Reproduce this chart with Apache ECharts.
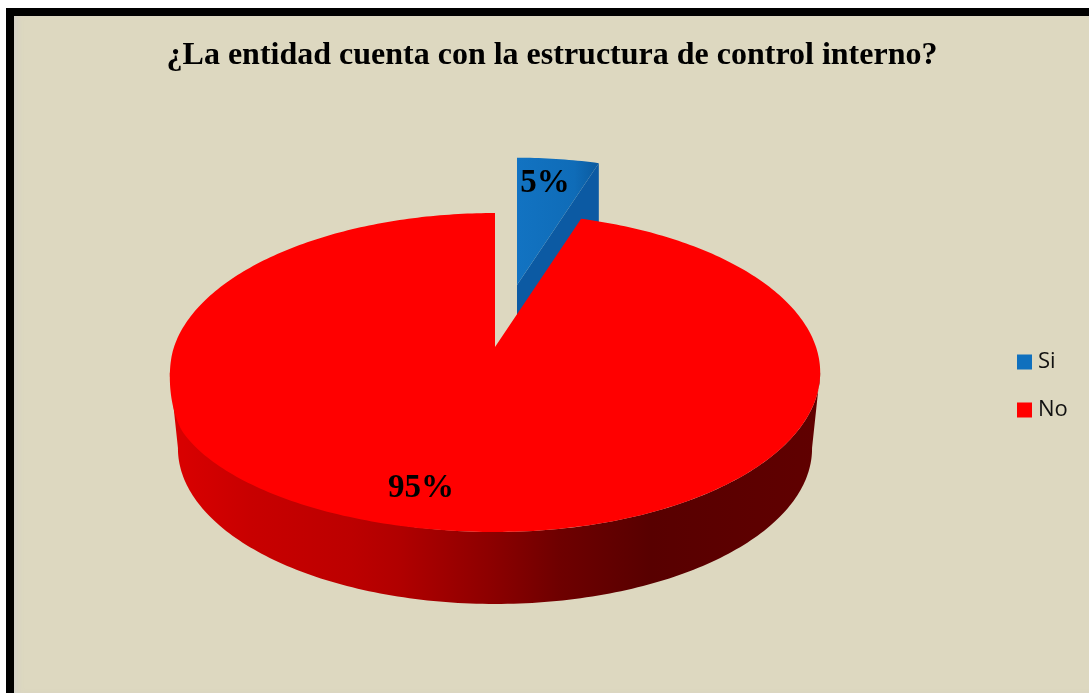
<!DOCTYPE html>
<html><head><meta charset="utf-8">
<script src="https://cdn.jsdelivr.net/npm/echarts@6/dist/echarts.min.js"></script>
<style>
html,body{margin:0;padding:0;width:100%;height:100%;background:#fff;overflow:hidden}
#frame{position:absolute;left:6px;top:8px;right:0;bottom:0;background:#000}
#inner{position:absolute;left:8px;top:8px;right:0;bottom:0;background:#DDD8C0;box-shadow:inset 6px 0 6px -3px rgba(205,205,205,.7)}
#main{position:absolute;left:0;top:0;width:1089px;height:693px}
</style></head><body>
<div id="frame"><div id="inner"></div></div>
<div id="main"></div>
<script>
const titleText = '¿La entidad cuenta con la estructura de control interno?';
const categories = ['Si', 'No'];
const values = [5, 95];
const sliceColors = ['#0F70BE', '#FF0000'];
const total = values.reduce((a, b) => a + b, 0);

// Perspective pie projection: rim point for clockwise angle (from 12 o'clock)
const persp = 0.16, radX = 321, radY = 155.4;
const pieApex = { x: 495, y: 347 };
const depth = { dy: 76.6, scale: 0.975 };
const blueExplode = { dx: 22, dy: -62, scale: 0.95 };
const DEG = Math.PI / 180;

function project(angle, r, o, s) {
  const d = 1 + persp * Math.cos(angle);
  return [
    o.x + s * r * radX * Math.sin(angle) / d,
    o.y - s * r * radY * Math.cos(angle) / d
  ];
}
function rim(a0, a1, o, s, sag) {
  const pts = [], n = Math.max(2, Math.ceil(Math.abs(a1 - a0) * 60));
  for (let i = 0; i <= n; i++) {
    const a = a0 + (a1 - a0) * i / n, p = project(a, 1, o, s);
    if (sag) p[1] += sag(a / DEG);
    pts.push(p);
  }
  return pts;
}
// the picture's top face sags a little on its lower left
function lowerLeftSag(deg) {
  if (deg <= 180 || deg >= 270) return 0;
  if (deg <= 245) return 15 * Math.pow((deg - 180) / 65, 2);
  return 15 * Math.pow(Math.cos((deg - 245) / 25 * Math.PI / 2), 2);
}
function sliceRange(idx) {
  let before = 0;
  for (let i = 0; i < idx; i++) before += values[i];
  return [before / total * 2 * Math.PI, (before + values[idx]) / total * 2 * Math.PI];
}
function labelStyle(text, p) {
  return { type: 'text', x: p[0], y: p[1], style: {
    text, fill: '#000', font: 'bold 33px "Liberation Serif"', textAlign: 'center', textVerticalAlign: 'middle' }, z2: 50 };
}
function renderSi(params) {
  const [a0, a1] = sliceRange(0);
  const s = blueExplode.scale;
  const o = { x: pieApex.x + blueExplode.dx, y: pieApex.y + blueExplode.dy };
  const base = { x: o.x, y: o.y + depth.dy * s };
  const top = [[o.x, o.y]].concat(rim(a0, a1, o, s));
  const end = project(a1, 1, o, s), endB = project(a1, 1, base, s);
  return { type: 'group', children: [
    { type: 'polygon', shape: { points: [[o.x, o.y], end, endB, [base.x, base.y]] },
      style: { fill: '#0C5AA3' }, z2: 1 },
    { type: 'polygon', shape: { points: top },
      style: { fill: { type: 'linear', x: 0, y: 0, x2: 1, y2: 0, colorStops: [
        { offset: 0, color: '#1273C2' }, { offset: .7, color: '#0F6CB8' }, { offset: 1, color: '#0B5A9F' }] } }, z2: 2 },
    labelStyle(Math.round(values[0] / total * 100) + '%', [545, 183])
  ] };
}
function renderNo(params) {
  const [a0, a1] = sliceRange(1);
  const o = pieApex, s = depth.scale;
  const base = { x: o.x, y: o.y + depth.dy };
  const top = [[o.x, o.y]].concat(rim(a0, a1, o, 1, lowerLeftSag));
  const wStart = 99 * DEG, wEnd = 261 * DEG;
  const wall = rim(wStart, wEnd, o, 1).concat(rim(wEnd, wStart, base, s));
  return { type: 'group', children: [
    { type: 'polygon', shape: { points: wall }, style: { fill: {
      type: 'linear', x: 0, y: 0, x2: 1, y2: 0, colorStops: [
        { offset: .02, color: '#D80000' }, { offset: .125, color: '#C80000' },
        { offset: .28, color: '#BC0000' }, { offset: .355, color: '#B00000' },
        { offset: .495, color: '#8C0000' }, { offset: .6, color: '#6E0000' },
        { offset: .74, color: '#580000' }, { offset: 1, color: '#600000' }] } }, z2: 1 },
    { type: 'polygon', shape: { points: top }, style: { fill: '#FF0000' }, z2: 2 },
    labelStyle(Math.round(values[1] / total * 100) + '%', [421, 488])
  ] };
}
const chart = echarts.init(document.getElementById('main'), null, { renderer: 'canvas' });
chart.setOption({
  backgroundColor: 'transparent',
  animation: false,
  title: { text: titleText, left: 547, top: 35, textAlign: 'center',
    textStyle: { fontFamily: 'Liberation Serif', fontWeight: 'bold', fontSize: 32, color: '#000' } },
  legend: { orient: 'vertical', left: 1017, top: 351, itemWidth: 15, itemHeight: 15, itemGap: 26,
    data: [{ name: categories[0], icon: 'rect' }, { name: categories[1], icon: 'rect' }],
    textStyle: { fontFamily: 'Open Sans', fontSize: 22, color: '#111', padding: [0, 0, 0, 1] }, padding: 0 },
  series: [
    { type: 'custom', name: categories[0], coordinateSystem: 'none', silent: true,
      itemStyle: { color: sliceColors[0] }, data: [values[0]], renderItem: renderSi },
    { type: 'custom', name: categories[1], coordinateSystem: 'none', silent: true,
      itemStyle: { color: sliceColors[1] }, data: [values[1]], renderItem: renderNo }
  ]
});
</script></body></html>
